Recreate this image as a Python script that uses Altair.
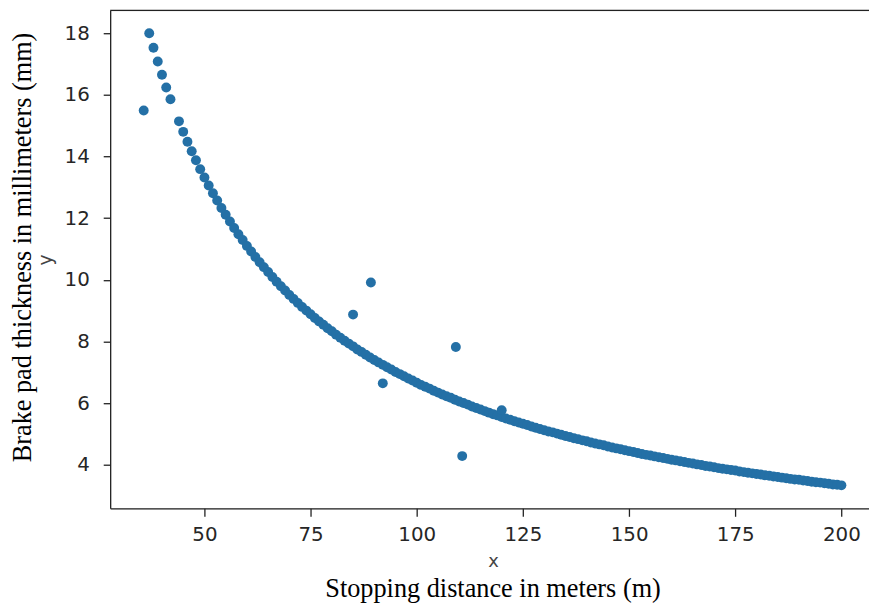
import altair as alt
import pandas as pd

# Main curve: stopping distance (x) and brake pad thickness (y)
x_curve = [
    37, 38, 39, 40, 41, 42, 44, 45, 46, 47, 48, 49,
    50, 51, 52, 53, 54, 55, 56, 57, 58, 59,
    60, 61, 62, 63, 64, 65, 66, 67, 68, 69,
    70, 71, 72, 73, 74, 75, 76, 77, 78, 79,
    80, 81, 82, 83, 84, 85, 86, 87, 88, 89,
    90, 91, 92, 93, 94, 95, 96, 97, 98, 99,
    100, 101, 102, 103, 104, 105, 106, 107, 108, 109,
    110, 111, 112, 113, 114, 115, 116, 117, 118, 119,
    120, 121, 122, 123, 124, 125, 126, 127, 128, 129,
    130, 131, 132, 133, 134, 135, 136, 137, 138, 139,
    140, 141, 142, 143, 144, 145, 146, 147, 148, 149,
    150, 151, 152, 153, 154, 155, 156, 157, 158, 159,
    160, 161, 162, 163, 164, 165, 166, 167, 168, 169,
    170, 171, 172, 173, 174, 175, 176, 177, 178, 179,
    180, 181, 182, 183, 184, 185, 186, 187, 188, 189,
    190, 191, 192, 193, 194, 195, 196, 197, 198, 199,
    200,
]
y_curve = [
    18.00, 17.53, 17.08, 16.65, 16.24, 15.86, 15.14, 14.80, 14.48, 14.17, 13.88, 13.59,
    13.32, 13.06, 12.81, 12.57, 12.33, 12.11, 11.89, 11.68, 11.48, 11.29,
    11.10, 10.92, 10.74, 10.57, 10.41, 10.25, 10.09, 9.94, 9.79, 9.65,
    9.51, 9.38, 9.25, 9.12, 9.00, 8.88, 8.76, 8.65, 8.54, 8.43,
    8.33, 8.22, 8.12, 8.02, 7.93, 7.84, 7.74, 7.66, 7.57, 7.48,
    7.40, 7.32, 7.24, 7.16, 7.09, 7.01, 6.94, 6.87, 6.80, 6.73,
    6.66, 6.59, 6.53, 6.47, 6.40, 6.34, 6.28, 6.22, 6.17, 6.11,
    6.05, 6.00, 5.95, 5.89, 5.84, 5.79, 5.74, 5.69, 5.64, 5.60,
    5.55, 5.50, 5.46, 5.41, 5.37, 5.33, 5.29, 5.24, 5.20, 5.16,
    5.12, 5.08, 5.05, 5.01, 4.97, 4.93, 4.90, 4.86, 4.83, 4.79,
    4.76, 4.72, 4.69, 4.66, 4.63, 4.59, 4.56, 4.53, 4.50, 4.47,
    4.44, 4.41, 4.38, 4.35, 4.32, 4.30, 4.27, 4.24, 4.22, 4.19,
    4.16, 4.14, 4.11, 4.09, 4.06, 4.04, 4.01, 3.99, 3.96, 3.94,
    3.92, 3.89, 3.87, 3.85, 3.83, 3.81, 3.78, 3.76, 3.74, 3.72,
    3.70, 3.68, 3.66, 3.64, 3.62, 3.60, 3.58, 3.56, 3.54, 3.52,
    3.51, 3.49, 3.47, 3.45, 3.43, 3.42, 3.40, 3.38, 3.36, 3.35,
    3.33,
]
# Scattered outliers
x_out = [35.7, 85, 89.2, 92, 109.2, 110.7, 120]
y_out = [15.49, 8.87, 9.91, 6.64, 7.82, 4.28, 5.77]

x_ticks = [50, 75, 100, 125, 150, 175, 200]
y_ticks = [4, 6, 8, 10, 12, 14, 16, 18]

df = pd.DataFrame({"x": x_curve + x_out, "y": y_curve + y_out})

W, H = 765, 502
SANS = "DejaVu Sans"
SERIF = "Liberation Serif"
INK = "#262626"

points = alt.Chart(df).mark_circle(size=100, opacity=1, color="#2470a6").encode(
    x=alt.X("x:Q", scale=alt.Scale(domain=[27.8, 206.5], nice=False, zero=False),
            axis=alt.Axis(values=x_ticks, title="x", grid=False, format="d",
                          labelFont=SANS, labelFontSize=20, labelColor=INK,
                          titleFont=SANS, titleFontSize=18, titleFontWeight="normal",
                          titleColor="#444", titleX=386, titleY=54, titleBaseline="middle",
                          tickSize=8, tickColor="#222", domainColor="#222",
                          domainWidth=1.3, tickWidth=1.3, labelPadding=8)),
    y=alt.Y("y:Q", scale=alt.Scale(domain=[2.584, 18.74], nice=False, zero=False),
            axis=alt.Axis(values=y_ticks, title="y", grid=False, format="d",
                          labelFont=SANS, labelFontSize=20, labelColor=INK,
                          titleFont=SANS, titleFontSize=19, titleFontWeight="normal",
                          titleColor="#444", titleX=-65, titleY=H / 2, titleBaseline="middle",
                          tickSize=7, tickColor="#222", domainColor="#222",
                          domainWidth=1.3, tickWidth=1.3, labelPadding=14)),
)

top_spine = alt.Chart(pd.DataFrame({"a": [0]})).mark_rule(color="#222", strokeWidth=1.3).encode(
    x=alt.value(0), x2=alt.value(W + 10), y=alt.value(0)
)

xlab = alt.Chart(pd.DataFrame({"t": ["Stopping distance in meters (m)"]})).mark_text(
    font=SERIF, fontSize=26.5, color="#000", baseline="alphabetic", align="center"
).encode(x=alt.value(497 - 111), y=alt.value(599 - 8), text="t:N")

ylab = alt.Chart(pd.DataFrame({"t": ["Brake pad thickness in millimeters (mm)"]})).mark_text(
    font=SERIF, fontSize=26.5, color="#000", baseline="alphabetic", align="center", angle=270
).encode(x=alt.value(31 - 111), y=alt.value(247 - 8), text="t:N")

chart = alt.layer(points, top_spine, xlab, ylab).properties(
    width=W, height=H,
    autosize=alt.AutoSizeParams(type="none"),
    padding={"left": 103, "top": 0, "right": 0, "bottom": 95},
).configure_view(strokeWidth=0).configure(background="white")

chart.save("out.html", embed_options={"renderer": "svg", "actions": False})
